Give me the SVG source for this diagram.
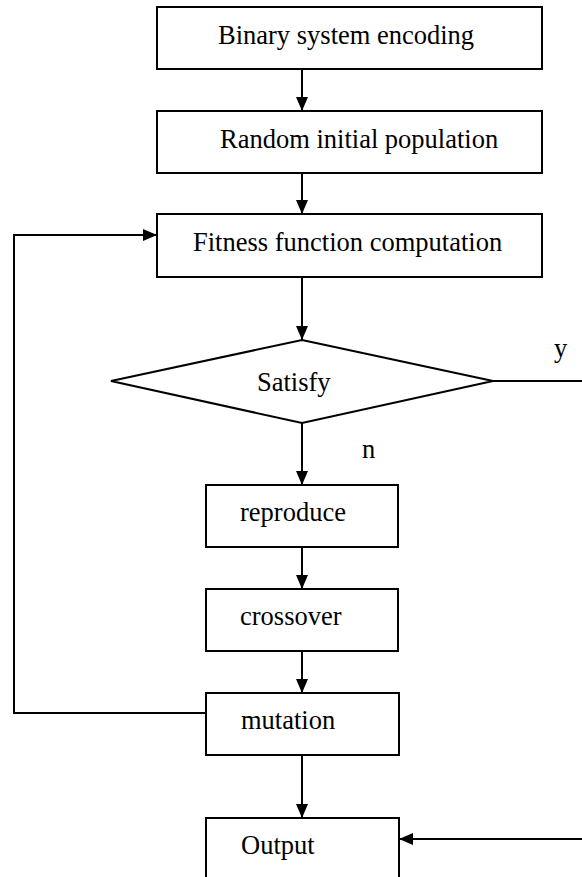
<svg xmlns="http://www.w3.org/2000/svg" width="582" height="877" viewBox="0 0 582 877">
<style>
.box{fill:#fff;stroke:#000;stroke-width:2}
.t{font-family:"Liberation Serif","Times New Roman",serif;font-size:26.5px;fill:#000}
.c{fill:none;stroke:#000;stroke-width:2}
</style>
<defs>
<marker id="ah" viewBox="0 0 14 12" refX="14" refY="6" markerWidth="14" markerHeight="12" markerUnits="userSpaceOnUse" orient="auto">
<path d="M0,0 L14,6 L0,12 z" fill="#000"/>
</marker>
</defs>
<rect width="582" height="877" fill="#fff"/>
<g id="connectors">
<line class="c" x1="302" y1="69" x2="302" y2="111" marker-end="url(#ah)"/>
<line class="c" x1="302" y1="173" x2="302" y2="214" marker-end="url(#ah)"/>
<line class="c" x1="302" y1="277" x2="302" y2="340" marker-end="url(#ah)"/>
<line class="c" x1="302" y1="423" x2="302" y2="485" marker-end="url(#ah)"/>
<line class="c" x1="302" y1="547" x2="302" y2="589" marker-end="url(#ah)"/>
<line class="c" x1="302" y1="651" x2="302" y2="693" marker-end="url(#ah)"/>
<line class="c" x1="302" y1="755" x2="302" y2="818" marker-end="url(#ah)"/>
<polyline class="c" points="206,713 14,713 14,235 157,235" marker-end="url(#ah)"/>
<line class="c" x1="493" y1="381" x2="582" y2="381"/>
<line class="c" x1="582" y1="839" x2="399" y2="839" marker-end="url(#ah)"/>
<text class="t" x="554" y="357">y</text>
<text class="t" x="362" y="458">n</text>
</g>
<g id="n1"><rect class="box" x="157" y="7" width="385" height="62"/><text class="t" x="218" y="44">Binary system encoding</text></g>
<g id="n2"><rect class="box" x="157" y="111" width="385" height="62"/><text class="t" x="220" y="148">Random initial population</text></g>
<g id="n3"><rect class="box" x="157" y="214" width="385" height="63"/><text class="t" x="193" y="251">Fitness function computation</text></g>
<g id="n4"><polygon class="box" points="302,340 493,381 302,423 111,381"/><text class="t" x="257" y="391">Satisfy</text></g>
<g id="n5"><rect class="box" x="206" y="485" width="192" height="62"/><text class="t" x="240" y="521">reproduce</text></g>
<g id="n6"><rect class="box" x="206" y="589" width="192" height="62"/><text class="t" x="240" y="625">crossover</text></g>
<g id="n7"><rect class="box" x="206" y="693" width="193" height="62"/><text class="t" x="241" y="729">mutation</text></g>
<g id="n8"><rect class="box" x="206" y="818" width="193" height="64"/><text class="t" x="241" y="854">Output</text></g>
</svg>
